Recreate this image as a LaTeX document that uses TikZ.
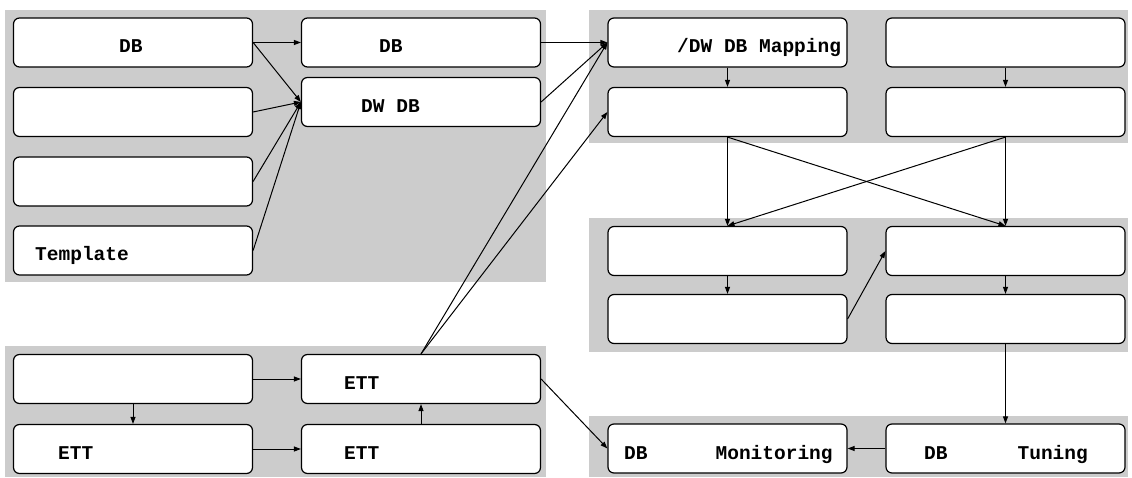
\documentclass[tikz,border=0pt]{standalone}
\usepackage{fontspec}
\newfontfamily\boxfont{Liberation Mono}
\usetikzlibrary{arrows.meta}
\definecolor{panelgray}{HTML}{CCCCCC}
\begin{document}
\begin{tikzpicture}[x=1pt,y=-1pt,
  panel/.style={fill=panelgray},
  box/.style={draw, fill=white, rounded corners=6pt, line width=1.2pt,
    minimum width=239pt, minimum height=49pt, inner sep=0pt},
  lbl/.style={font=\boxfont\bfseries\fontsize{19.5}{19.5}\selectfont,
    anchor=base west, inner sep=0pt},
  conn/.style={line width=1pt, -{Triangle[length=7pt,width=5pt]}}]
\useasboundingbox (0,0) rectangle (1132,478);
% panels
\fill[panel] (5,10) rectangle (546,282);
\fill[panel] (589,10) rectangle (1128,143);
\fill[panel] (589,218) rectangle (1128,352);
\fill[panel] (589,416) rectangle (1128,477);
\fill[panel] (5,346) rectangle (546,477);
% boxes
\node[box] (AL1) at (133,42.5) {};
\node[box] (AL2) at (133,112) {};
\node[box] (AL3) at (133,181.5) {};
\node[box] (AL4) at (133,250.5) {};
\node[box] (AR1) at (421,42.5) {};
\node[box] (AR2) at (421,102) {};
\node[box] (BL1) at (727.5,42.5) {};
\node[box] (BL2) at (727.5,112) {};
\node[box] (BR1) at (1005.5,42.5) {};
\node[box] (BR2) at (1005.5,112) {};
\node[box] (CL1) at (727.5,251) {};
\node[box] (CL2) at (727.5,319) {};
\node[box] (CR1) at (1005.5,251) {};
\node[box] (CR2) at (1005.5,319) {};
\node[box] (DL) at (727.5,448.5) {};
\node[box] (DR) at (1005.5,448.5) {};
\node[box] (EL1) at (133,379) {};
\node[box] (EL2) at (133,449) {};
\node[box] (ER1) at (421,379) {};
\node[box] (ER2) at (421,449) {};
% labels
\node[lbl] (tAL1) at (119,53) {DB};
\node[lbl] (tAR1) at (379,53) {DB};
\node[lbl] (tAR2) at (361,113) {DW DB};
\node[lbl] (tAL4) at (35,261) {Template};
\node[lbl] (tBL1) at (677,53) {/DW DB Mapping};
\node[lbl] (tER1) at (344,389) {ETT};
\node[lbl] (tEL2) at (58,459) {ETT};
\node[lbl] (tER2) at (344,459) {ETT};
\node[lbl] (tDL) at (624,459) {DB\hspace{68pt}Monitoring};
\node[lbl] (tDR) at (924,459) {DB\hspace{70pt}Tuning};
% connectors
\draw[conn] (AL1.east) -- (AR1.west);
\draw[conn] (AL1.east) -- (AR2.west);
\draw[conn] (AL2.east) -- (AR2.west);
\draw[conn] (AL3.east) -- (AR2.west);
\draw[conn] (AL4.east) -- (AR2.west);
\draw[conn] (AR1.east) -- (BL1.west);
\draw[conn] (AR2.east) -- (BL1.west);
\draw[conn] (ER1.north) -- (BL1.west);
\draw[conn] (ER1.north) -- (BL2.west);
\draw[conn] (BL1.south) -- (BL2.north);
\draw[conn] (BR1.south) -- (BR2.north);
\draw[conn] (BL2.south) -- (CL1.north);
\draw[conn] (BL2.south) -- (CR1.north);
\draw[conn] (BR2.south) -- (CL1.north);
\draw[conn] (BR2.south) -- (CR1.north);
\draw[conn] (CL1.south) -- (CL2.north);
\draw[conn] (CR1.south) -- (CR2.north);
\draw[conn] (CL2.east) -- (CR1.west);
\draw[conn] (CR2.south) -- (DR.north);
\draw[conn] (DR.west) -- (DL.east);
\draw[conn] (ER1.east) -- (DL.west);
\draw[conn] (EL1.east) -- (ER1.west);
\draw[conn] (EL1.south) -- (EL2.north);
\draw[conn] (EL2.east) -- (ER2.west);
\draw[conn] (ER2.north) -- (ER1.south);
\end{tikzpicture}
\end{document}
